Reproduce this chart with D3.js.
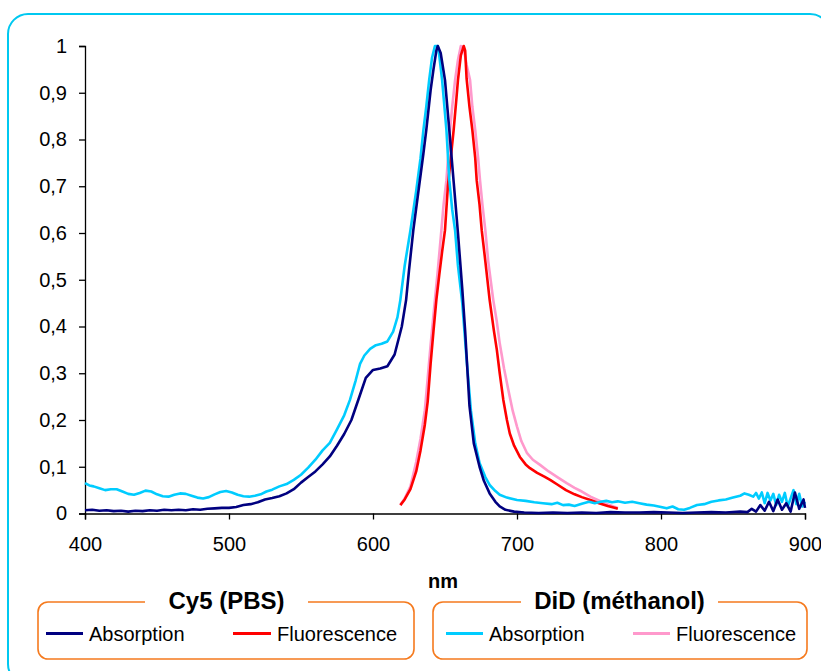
<!DOCTYPE html>
<html><head><meta charset="utf-8">
<script src="https://cdn.jsdelivr.net/npm/d3@7"></script>
<style>body{margin:0;background:#fff}svg{display:block}text{font-family:"Liberation Sans",Arial,sans-serif}</style>
</head><body><svg id="c" width="821" height="671"></svg>
<script>
// ---- data ----
const xTicks = [400, 500, 600, 700, 800, 900];
const yTicks = [0, 0.1, 0.2, 0.3, 0.4, 0.5, 0.6, 0.7, 0.8, 0.9, 1];
const xLabel = "nm";

const cy5AbsWl = [400,405,410,415,420,425,430,435,440,445,450,455,460,465,470,475,480,485,490,495,500,505,510,515,520,525,530,535,540,545,550,555,560,565,570,575,580,585,590,595,600,605,610,615,620,623,625,628,632,635,637,640,642,644,645,647,650,653,656,659,662,664,667,670,674,677,681,685,688,692,698,705,715,725,735,745,755,765,775,785,795,805,815,825,835,845,855,860,863,866,869,872,875,878,881,884,887,890,893,896,899,900];
const cy5Abs = [0.007,0.008,0.006,0.007,0.005,0.006,0.004,0.006,0.005,0.007,0.006,0.008,0.007,0.008,0.007,0.009,0.008,0.010,0.011,0.012,0.012,0.014,0.018,0.020,0.024,0.030,0.033,0.037,0.043,0.052,0.066,0.078,0.090,0.105,0.122,0.145,0.170,0.200,0.245,0.290,0.307,0.310,0.315,0.340,0.400,0.457,0.520,0.606,0.700,0.770,0.820,0.905,0.950,0.990,1.000,0.985,0.927,0.820,0.710,0.600,0.480,0.390,0.230,0.150,0.100,0.070,0.043,0.025,0.015,0.008,0.004,0.002,0.001,0.002,0.001,0.002,0.001,0.003,0.002,0.002,0.003,0.002,0.001,0.002,0.003,0.002,0.004,0.003,0.010,0.004,0.018,0.006,0.025,0.005,0.030,0.008,0.022,0.004,0.045,0.010,0.030,0.012];

const didAbsWl = [400,403,406,410,414,418,422,426,430,434,438,442,446,450,454,458,462,466,470,474,478,482,486,490,494,498,502,506,510,514,518,522,526,530,535,540,545,550,555,560,565,570,575,580,584,588,591,594,598,602,606,610,614,617,619,622,626,630,633,635,637,639,641,643,645,646,648,651,653,655,657,659,662,665,668,671,674,678,681,685,688,693,700,706,712,718,724,728,732,736,740,745,750,754,758,762,766,770,775,780,785,790,795,800,804,808,812,816,820,825,830,835,840,845,850,855,858,861,864,866,868,870,872,874,876,878,880,882,884,886,888,890,892,894,896,898,900];
const didAbs = [0.065,0.060,0.058,0.054,0.050,0.052,0.052,0.047,0.042,0.040,0.044,0.049,0.047,0.041,0.037,0.036,0.040,0.043,0.042,0.038,0.034,0.032,0.035,0.041,0.046,0.048,0.045,0.040,0.037,0.036,0.038,0.041,0.047,0.051,0.058,0.063,0.072,0.083,0.098,0.115,0.135,0.151,0.180,0.210,0.243,0.285,0.320,0.338,0.352,0.360,0.363,0.368,0.389,0.420,0.457,0.530,0.606,0.690,0.760,0.820,0.870,0.927,0.975,1.000,1.000,0.980,0.927,0.820,0.713,0.650,0.606,0.530,0.450,0.330,0.220,0.150,0.108,0.078,0.061,0.048,0.040,0.034,0.029,0.027,0.024,0.022,0.020,0.023,0.018,0.019,0.016,0.021,0.025,0.022,0.025,0.027,0.024,0.026,0.023,0.025,0.022,0.019,0.017,0.014,0.011,0.015,0.009,0.008,0.012,0.018,0.020,0.025,0.028,0.030,0.034,0.038,0.043,0.040,0.036,0.044,0.032,0.045,0.022,0.044,0.028,0.042,0.018,0.040,0.025,0.044,0.015,0.032,0.050,0.020,0.042,0.015,0.025];

const cy5FluoWl = [619,622,626,630,633,636,638,640,642,644,646,648,650,652,654,656,658,659,661,663,664,665,667,669,671,672,674,675.5,678,681,684,686,688,690.5,693,695,698,702,706,709,714,719,723,728,734,740,745,751,757,763,769,770];
const cy5Fluo = [0.018,0.030,0.052,0.090,0.135,0.190,0.240,0.320,0.390,0.457,0.510,0.560,0.606,0.700,0.760,0.820,0.890,0.927,0.980,1.000,0.990,0.930,0.870,0.820,0.760,0.713,0.660,0.606,0.540,0.457,0.390,0.350,0.300,0.243,0.200,0.171,0.145,0.121,0.105,0.097,0.087,0.079,0.072,0.062,0.050,0.041,0.035,0.029,0.022,0.016,0.011,0.010];

const didFluoWl = [619,622,626,630,633,636,638,640,643,645,647.5,649,651,653.5,655,657,659,661,663,665,667.4,669,671,673,674.3,676,678,680,683.5,686,688,691,694,697,700,703,707,711,716,722,728,734.5,740,745,751,756,761,767,770];
const didFluo = [0.018,0.032,0.058,0.110,0.160,0.221,0.290,0.360,0.457,0.520,0.606,0.660,0.713,0.820,0.870,0.927,0.970,1.000,0.995,0.960,0.927,0.870,0.820,0.760,0.713,0.660,0.606,0.540,0.457,0.410,0.364,0.310,0.264,0.220,0.186,0.155,0.129,0.115,0.104,0.090,0.078,0.065,0.055,0.047,0.036,0.029,0.022,0.015,0.012];

const colCy5Abs = "#000080", colCy5Fluo = "#FF0000", colDidAbs = "#00CCFF", colDidFluo = "#FF99CC";

// ---- drawing ----
const svg = d3.select("#c");
svg.append("rect").attr("x", 8).attr("y", 14).attr("width", 822).attr("height", 670)
  .attr("rx", 20).attr("fill", "#fff").attr("stroke", "#00C8F0").attr("stroke-width", 2);

const x = d3.scaleLinear().domain([400, 900]).range([85, 805]);
const y = d3.scaleLinear().domain([0, 1]).range([513.5, 46]);

const fmt = d => d3.format(".1~f")(d).replace(".", ",");

const gx = svg.append("g").attr("transform", "translate(0,513.5)")
  .call(d3.axisBottom(x).tickValues(xTicks).tickSize(6).tickPadding(17).tickFormat(d3.format("d")));
const gy = svg.append("g").attr("transform", "translate(85,0)")
  .call(d3.axisLeft(y).tickValues(yTicks).tickSize(6).tickPadding(12).tickFormat(d => d === 0 ? "0" : (d === 1 ? "1" : fmt(d))));
[gx, gy].forEach(g => {
  g.selectAll(".domain").attr("stroke", "#000").attr("stroke-width", 1.3);
  g.selectAll(".tick line").attr("stroke", "#000").attr("stroke-width", 1.3);
  g.selectAll(".tick text").attr("font-size", 20).attr("fill", "#000").attr("font-family", "Liberation Sans, Arial, sans-serif");
});

const line = d3.line().x(d => x(d[0])).y(d => y(d[1]));
function drawSeries(wl, v, col) {
  svg.append("path").datum(wl.map((w, i) => [w, v[i]]))
    .attr("d", line).attr("fill", "none").attr("stroke", col).attr("stroke-width", 2.6)
    .attr("stroke-linejoin", "round");
}
drawSeries(didFluoWl, didFluo, colDidFluo);
drawSeries(cy5FluoWl, cy5Fluo, colCy5Fluo);
drawSeries(didAbsWl, didAbs, colDidAbs);
drawSeries(cy5AbsWl, cy5Abs, colCy5Abs);

svg.append("text").attr("x", 443).attr("y", 588).attr("text-anchor", "middle")
  .attr("font-size", 20).attr("font-weight", "bold").text(xLabel);

// legends
const legends = [
  {title: "Cy5 (PBS)", x0: 38, x1: 414, gap: [145, 308], items: [
    {label: "Absorption", color: colCy5Abs, l0: 46, l1: 83, t: 89},
    {label: "Fluorescence", color: colCy5Fluo, l0: 233, l1: 271, t: 277}]},
  {title: "DiD (méthanol)", x0: 433, x1: 807, gap: [521, 718], items: [
    {label: "Absorption", color: colDidAbs, l0: 446, l1: 483, t: 489},
    {label: "Fluorescence", color: colDidFluo, l0: 633, l1: 670, t: 676}]}
];
const boxTop = 602, boxBot = 659, rr = 10;
legends.forEach(L => {
  const p = d3.path();
  p.moveTo(L.gap[0], boxTop);
  p.lineTo(L.x0 + rr, boxTop);
  p.arcTo(L.x0, boxTop, L.x0, boxTop + rr, rr);
  p.lineTo(L.x0, boxBot - rr);
  p.arcTo(L.x0, boxBot, L.x0 + rr, boxBot, rr);
  p.lineTo(L.x1 - rr, boxBot);
  p.arcTo(L.x1, boxBot, L.x1, boxBot - rr, rr);
  p.lineTo(L.x1, boxTop + rr);
  p.arcTo(L.x1, boxTop, L.x1 - rr, boxTop, rr);
  p.lineTo(L.gap[1], boxTop);
  svg.append("path").attr("d", p.toString()).attr("fill", "none")
    .attr("stroke", "#F57A1E").attr("stroke-width", 1.6);
  svg.append("text").attr("x", (L.gap[0] + L.gap[1]) / 2).attr("y", 609)
    .attr("text-anchor", "middle").attr("font-size", 24).attr("font-weight", "bold").text(L.title);
  L.items.forEach(it => {
    svg.append("line").attr("x1", it.l0).attr("x2", it.l1).attr("y1", 633.5).attr("y2", 633.5)
      .attr("stroke", it.color).attr("stroke-width", 3);
    svg.append("text").attr("x", it.t).attr("y", 641).attr("font-size", 20).text(it.label);
  });
});
</script></body></html>
